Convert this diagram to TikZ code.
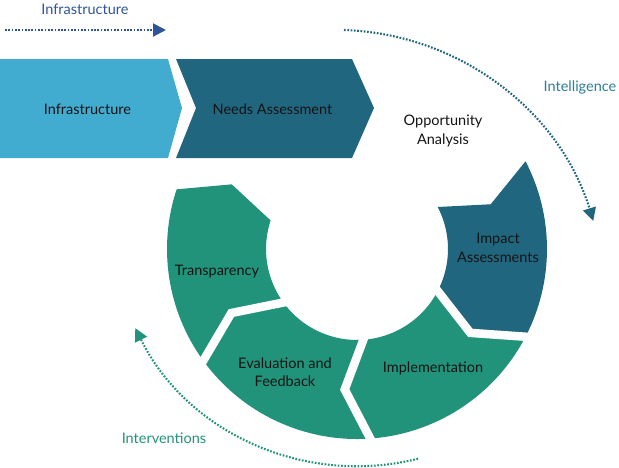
\documentclass[tikz,border=0pt]{standalone}
\usepackage{fontspec}
\setmainfont{Lato}
\usetikzlibrary{arrows.meta,calc}
\definecolor{lblue}{HTML}{42ABD0}
\definecolor{dteal}{HTML}{21667F}
\definecolor{cgreen}{HTML}{21937A}
\definecolor{infraText}{HTML}{2F5597}
\definecolor{intelText}{HTML}{2E7D9A}
\definecolor{txt}{HTML}{141414}
\newcommand\ringseg[3]{%
  \fill[#1] (#2:190) arc[start angle=#2, end angle=#3, radius=190]
    -- ({#3-9}:141) -- (#3:91) arc[start angle=#3, end angle=#2, radius=91]
    -- ({#2-9}:141) -- cycle;}
\newcommand\ringgap[1]{%
  \draw[white, line width=8.5pt, line join=miter]
    ($({#1-9}:141)!1.2!(#1:91)$) -- ({#1-9}:141) -- ($({#1-9}:141)!1.1!(#1:190)$);}
\tikzset{
  lbl/.style={font=\fontsize{14.5}{18.5}\selectfont, text=txt, align=center, inner sep=0pt},
  dotarrow/.style={line width=2.1pt, dash pattern=on 1.7pt off 1.6pt,
    -{Triangle[length=13pt,width=13pt]}},
}
\begin{document}
\begin{tikzpicture}[x=1pt,y=-1pt]
\useasboundingbox (0,0) rectangle (619,467);

% top chevrons
\fill[lblue] (-1,59) -- (168,59) -- (182,108) -- (168,158) -- (-1,158) -- cycle;
\fill[dteal] (176,59) -- (352,59) -- (374,108) -- (352,158) -- (176,158) -- (196,108) -- cycle;
\node[lbl] (infra) at (87.5,109) {Infrastructure};
\node[lbl] (needs) at (272.5,109) {Needs Assessment};
\node[lbl] (opp) at (443,131) {Opportunity\\Analysis};

% ring
\begin{scope}[shift={(357,249)}, yscale=-1]
  \ringseg{dteal}{27.5}{-27.5}
  \ringseg{cgreen}{-27.5}{-86}
  \ringseg{cgreen}{-86}{-144}
  \ringseg{cgreen}{-144}{-198.3}
  \ringgap{-27.5}
  \ringgap{-86}
  \ringgap{-144}
\end{scope}
\node[lbl] (impact) at (498,248) {Impact\\Assessments};
\node[lbl] (impl) at (433,368) {Implementation};
\node[lbl] (eval) at (285,372) {Evaluation and\\Feedback};
\node[lbl] (transp) at (217,272) {Transparency};

% outer labels
\node[lbl, text=infraText] (infraLbl) at (85,9) {Infrastructure};
\node[lbl, text=intelText] (intelLbl) at (580,87) {Intelligence};
\node[lbl, text=cgreen] (interLbl) at (164,438) {Interventions};

% dotted arrows
\coordinate (infraS) at (5,30);
\coordinate (infraE) at (166,30);
\draw[dotarrow, draw=infraText] (infraS) -- (infraE);
\coordinate (intelS) at (344,30);
\draw[dotarrow, draw=dteal] (intelS) arc[start angle=-88.1, end angle=-17, radius=270];
\coordinate (interS) at (418,458.7);
\draw[dotarrow, draw=cgreen] (interS) arc[start angle=75.9, end angle=153.7, radius=248];
\end{tikzpicture}
\end{document}
